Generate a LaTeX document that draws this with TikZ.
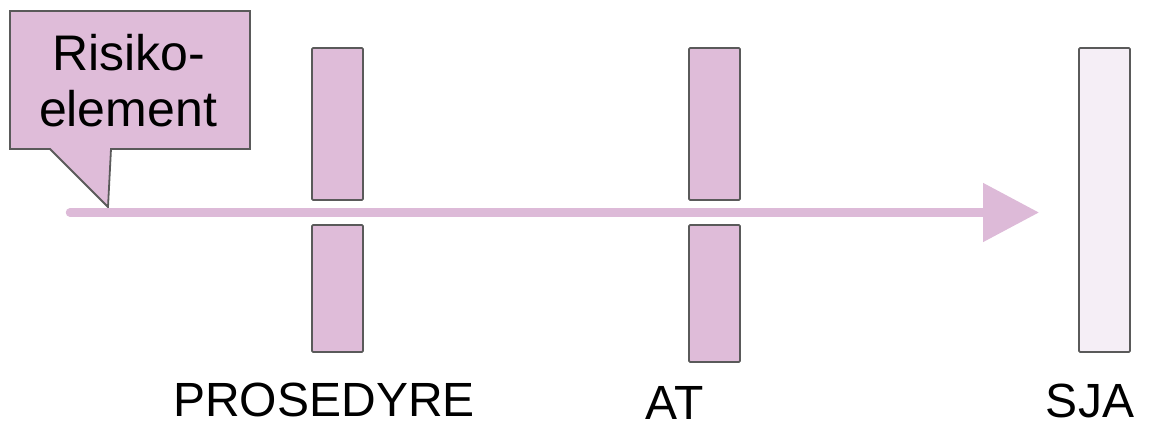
\documentclass[tikz,border=0pt]{standalone}
\usepackage{fontspec}
\setmainfont{Liberation Sans}
\usetikzlibrary{arrows.meta}
\definecolor{pinkfill}{HTML}{DFBCD9}
\definecolor{pinkline}{HTML}{DDBAD8}
\definecolor{palefill}{HTML}{F5EEF6}
\definecolor{edgegray}{HTML}{5A5A5A}
\tikzset{
  barbox/.style={draw=edgegray, line width=1.8pt, fill=pinkfill, rounded corners=1.2pt},
  palebox/.style={draw=edgegray, line width=1.8pt, fill=palefill, rounded corners=1.2pt},
  lbl/.style={inner sep=0pt, anchor=base, font=\fontsize{48}{56}\selectfont},
  calltext/.style={inner sep=0pt, anchor=base, font=\fontsize{50}{56}\selectfont},
  flow/.style={draw=pinkline, line width=8.5pt, line cap=round, -{Triangle[length=56pt,width=57pt]}}
}
\begin{document}
\begin{tikzpicture}[x=1pt,y=-1pt]
\useasboundingbox (0,0) rectangle (1152,427);
% callout
\draw[draw=edgegray, line width=1.8pt, fill=pinkfill, line join=miter]
  (10,11) -- (250,11) -- (250,149) -- (111,149) -- (108,207) -- (50,149) -- (10,149) -- cycle;
\node[calltext] (risk1) at (129,71) {Risiko-};
\node[calltext] (risk2) at (128,127) {element};
% bars
\draw[barbox] (312,48) rectangle (363,200);
\draw[barbox] (312,225) rectangle (363,352);
\draw[barbox] (689,48) rectangle (740,200);
\draw[barbox] (689,225) rectangle (740,362);
\draw[palebox] (1079,48) rectangle (1130,352);
% arrow
\coordinate (start) at (70,212.5);
\coordinate (tip) at (1039,212.5);
\draw[flow] (start) -- (tip);
% labels
\node[lbl] (pros) at (324,417) {PROSEDYRE};
\node[lbl] (at) at (674.5,419.5) {AT};
\node[lbl] (sja) at (1090,418) {SJA};
\end{tikzpicture}
\end{document}
